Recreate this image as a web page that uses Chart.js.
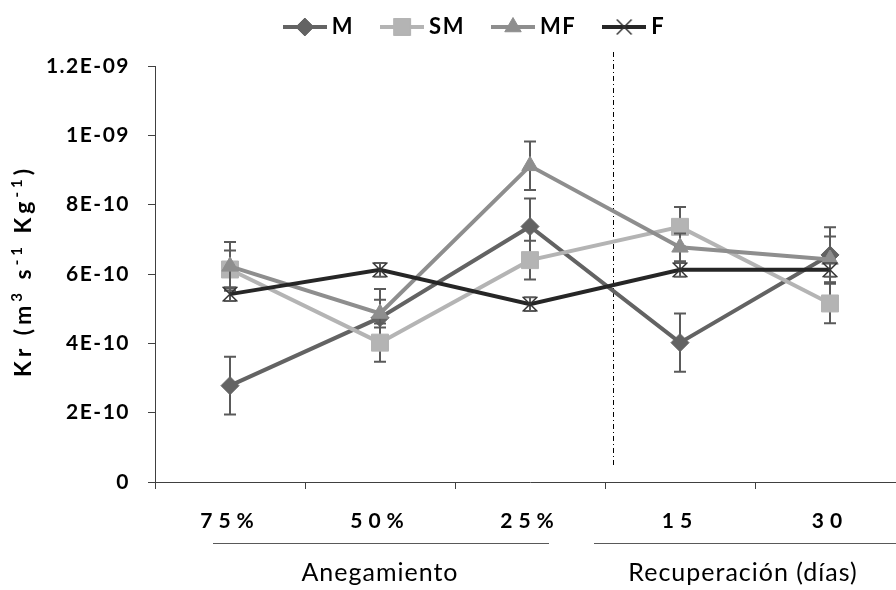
<!DOCTYPE html>
<html>
<head>
<meta charset="utf-8">
<script src="https://cdn.jsdelivr.net/npm/chart.js@4"></script>
<style>
    html, body { margin: 0; padding: 0; background: #fff; overflow: hidden; }
    #wrap { width: 980px; height: 590px; }
</style>
</head>
<body>
<div id="wrap"><canvas id="krChart"></canvas></div>
<script>
// categorías y grupos del eje X
const categories = ['75%', '50%', '25%', '15', '30'];
const groupLabels = ['Anegamiento', 'Recuperación (días)'];
const yTickLabels = ['0', '2E-10', '4E-10', '6E-10', '8E-10', '1E-09', '1.2E-09'];
// título del eje Y: [texto, superíndice]
const yTitleParts = [['Kr (m', false], ['3', true], [' s', false], ['-1', true], [' Kg', false], ['-1', true], [')', false]];

const seriesNames = ['M', 'SM', 'MF', 'F'];
const valuesM  = [2.78e-10, 4.74e-10, 7.37e-10, 4.02e-10, 6.55e-10];
const valuesSM = [6.13e-10, 4.02e-10, 6.40e-10, 7.36e-10, 5.15e-10];
const valuesMF = [6.22e-10, 4.86e-10, 9.12e-10, 6.77e-10, 6.42e-10];
const valuesF  = [5.42e-10, 6.12e-10, 5.13e-10, 6.12e-10, 6.12e-10];

// error estándar
const errM  = [0.83e-10, 0.83e-10, 0.81e-10, 0.84e-10, 0.80e-10];
const errSM = [0.55e-10, 0.55e-10, 0.56e-10, 0.57e-10, 0.57e-10];
const errMF = [0.70e-10, 0.40e-10, 0.70e-10, 0.40e-10, 0.66e-10];
const errF  = [0.20e-10, 0.20e-10, 0.20e-10, 0.20e-10, 0.20e-10];

const colors = ['#636363', '#b4b4b4', '#8e8e8e', '#262626'];
const markers = ['rectRot', 'rect', 'triangle', 'crossRot'];
const radii = [9, 12, 9.5, 10.5];
const errColor = '#5a5a5a';
const font = 'Lato';

// iconos de la leyenda: línea + marcador
function legendIcon(i) {
    const c = document.createElement('canvas');
    c.width = 44; c.height = 24;
    const g = c.getContext('2d');
    g.strokeStyle = colors[i];
    g.lineWidth = 4;
    g.beginPath(); g.moveTo(0, 12); g.lineTo(44, 12); g.stroke();
    g.fillStyle = colors[i];
    g.strokeStyle = i === 3 ? '#333' : colors[i];
    g.lineWidth = i === 3 ? 1.5 : 1;
    Chart.helpers.drawPoint(g, { pointStyle: markers[i], radius: radii[i], rotation: 0, borderWidth: g.lineWidth }, 22, 12);
    return c;
}
const legendIcons = seriesNames.map((n, i) => legendIcon(i));

const errorBars = {
    id: 'errorBars',
    beforeDatasetDraw(chart, args) {
        const ds = chart.data.datasets[args.index];
        if (!ds.errors) return;
        const { ctx, scales: { x, y } } = chart;
        ctx.save();
        ctx.strokeStyle = errColor;
        ctx.lineWidth = 2;
        ds.data.forEach((v, i) => {
            const px = x.getPixelForValue(i);
            const top = y.getPixelForValue(v + ds.errors[i]);
            const bot = y.getPixelForValue(v - ds.errors[i]);
            ctx.beginPath();
            ctx.moveTo(px, top); ctx.lineTo(px, bot);
            ctx.moveTo(px - 6, top); ctx.lineTo(px + 6, top);
            ctx.moveTo(px - 6, bot); ctx.lineTo(px + 6, bot);
            ctx.stroke();
        });
        ctx.restore();
    }
};

// línea vertical que separa anegamiento / recuperación
const separator = {
    id: 'separator',
    beforeDatasetsDraw(chart) {
        const { ctx, scales: { x, y }, chartArea } = chart;
        const x2 = x.getPixelForValue(2), x3 = x.getPixelForValue(3);
        const px = Math.round(x2 + 0.55 * (x3 - x2)) + 0.5;
        ctx.save();
        ctx.strokeStyle = '#000';
        ctx.lineWidth = 1;
        ctx.setLineDash([5, 3, 1, 3]);
        ctx.beginPath();
        ctx.moveTo(px, chartArea.top - 14);
        ctx.lineTo(px, y.getPixelForValue(0.46e-10));
        ctx.stroke();
        ctx.restore();
    }
};

// espaciado de letras: el texto del original es algo más ancho
const spacing = {
    id: 'spacing',
    beforeDraw(chart) { chart.ctx.letterSpacing = '1.5px'; },
    afterDatasetsDraw(chart) { chart.ctx.letterSpacing = '6px'; },
    afterDraw(chart) { chart.ctx.letterSpacing = '0px'; }
};

// título del eje Y y etiquetas de grupo bajo el eje X
const extraText = {
    id: 'extraText',
    afterDraw(chart) {
        const { ctx, scales: { x }, chartArea } = chart;
        const p = i => x.getPixelForValue(i);
        ctx.save();
        ctx.fillStyle = '#000';

        // título vertical con superíndices
        ctx.save();
        ctx.letterSpacing = '4px';
        ctx.textAlign = 'left';
        ctx.textBaseline = 'alphabetic';
        const baseFont = 'bold 23px ' + font, supFont = 'bold 15px ' + font;
        const widths = yTitleParts.map(([t, sup]) => { ctx.font = sup ? supFont : baseFont; return ctx.measureText(t).width; });
        const total = widths.reduce((a, b) => a + b, 0);
        ctx.translate(31, (chartArea.top + chartArea.bottom) / 2 - 3);
        ctx.rotate(-Math.PI / 2);
        let cx = -total / 2;
        yTitleParts.forEach(([t, sup], i) => {
            ctx.font = sup ? supFont : baseFont;
            ctx.fillText(t, cx, sup ? -9 : 0);
            cx += widths[i];
        });
        ctx.restore();

        ctx.textAlign = 'center';
        ctx.textBaseline = 'middle';
        const lineY = x.top + 61.5;
        ctx.strokeStyle = '#595959';
        ctx.lineWidth = 1;
        ctx.beginPath();
        ctx.moveTo(p(0) - 17, lineY); ctx.lineTo(p(2) + 19, lineY);
        ctx.moveTo(p(3) - 86, lineY); ctx.lineTo(chart.width, lineY);
        ctx.stroke();
        ctx.letterSpacing = '1px';
        ctx.font = '25px ' + font;
        ctx.fillText(groupLabels[0], p(1), x.top + 91);
        ctx.fillText(groupLabels[1], (p(3) + p(4)) / 2 - 12, x.top + 91);
        ctx.restore();
    }
};

const allValues = [valuesM, valuesSM, valuesMF, valuesF];
const allErrors = [errM, errSM, errMF, errF];

new Chart(document.getElementById('krChart'), {
    type: 'line',
    data: {
        labels: categories,
        datasets: seriesNames.map((name, i) => ({
            label: name,
            data: allValues[i],
            errors: allErrors[i],
            borderColor: colors[i],
            backgroundColor: colors[i],
            pointBorderColor: i === 3 ? '#333' : colors[i],
            borderWidth: 4,
            pointStyle: markers[i],
            pointRadius: radii[i],
            pointHoverRadius: radii[i],
            pointBorderWidth: i === 3 ? 1.5 : 1,
            tension: 0,
            order: 4 - i
        }))
    },
    options: {
        responsive: true,
        maintainAspectRatio: false,
        animation: false,
        layout: { padding: { left: 40, right: 75, top: -16, bottom: 0 } },
        plugins: {
            legend: {
                position: 'top',
                labels: {
                    usePointStyle: true,
                    pointStyleWidth: 32,
                    padding: 32,
                    color: '#000',
                    font: { family: font, size: 22, weight: 'bold' },
                    sort: (a, b) => a.datasetIndex - b.datasetIndex,
                    generateLabels: chart => Chart.defaults.plugins.legend.labels.generateLabels(chart).map(l => {
                        l.pointStyle = legendIcons[l.datasetIndex];
                        return l;
                    })
                }
            },
            subtitle: { display: true, text: '', weight: 500, padding: 0, font: { size: 20, lineHeight: '18px' } },
            tooltip: { enabled: false }
        },
        scales: {
            x: {
                offset: true,
                grid: { offset: true, drawOnChartArea: false, tickLength: 7, color: '#404040' },
                border: { color: '#404040', width: 1 },
                ticks: { z: 1, color: '#000', padding: 20, font: { family: font, size: 21, weight: 'bold' } },
                afterFit: s => { s.height = 108; }
            },
            y: {
                min: 0,
                max: 1.2e-9,
                ticks: {
                    stepSize: 2e-10,
                    color: '#000',
                    padding: 18,
                    font: { family: font, size: 21, weight: 'bold' },
                    callback: v => yTickLabels[Math.round(v / 2e-10)]
                },
                grid: { drawOnChartArea: false, tickLength: 7, color: '#404040' },
                border: { color: '#404040', width: 1 },
                afterFit: s => { s.width = 115; }
            }
        }
    },
    plugins: [errorBars, separator, spacing, extraText]
});
</script>
</body>
</html>
